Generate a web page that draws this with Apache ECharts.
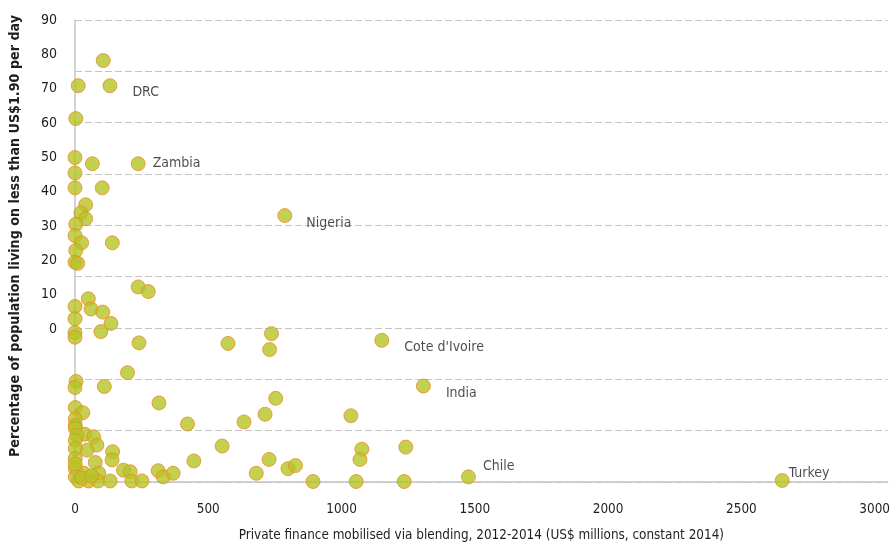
<!DOCTYPE html>
<html>
<head>
<meta charset="utf-8">
<script src="https://cdn.jsdelivr.net/npm/echarts@6/dist/echarts.min.js"></script>
<style>
html,body{margin:0;padding:0;background:#fff;}
#chart{width:893px;height:547px;}
</style>
</head>
<body>
<div id="chart"></div>
<script>
// ---- data ----
const countryNames = ['DRC', 'Zambia', 'Nigeria', "Cote d'Ivoire", 'India', 'Chile', 'Turkey'];
const countryFinance = [131, 237, 787, 1151, 1307, 1476, 2653];
const countryPoverty = [77.2, 62.0, 51.9, 27.6, 18.7, 1.0, 0.3];

const otherFinance = [106, 12, 3, 0, 65, 0, 0, 102, 40, 22, 40, 3, 0, 25, 140, 3, 0, 10,
  237, 275, 50, 0, 60, 104, 0, 135, 97, 0, 0, 240, 574, 737, 730, 197, 4, 0, 110,
  315, 753, 713, 634, 422, 1035, 1, 29, 1, 1, 1, 37, 70, 7, 1, 82, 552, 45, 1, 141,
  139, 76, 1, 446, 728, 1076, 1069, 1241, 1, 89, 182, 207, 33, 1, 312, 331, 368, 680,
  799, 827, 14, 51, 86, 132, 213, 251, 26, 893, 1055, 1235, 62, 1];
const otherPoverty = [82.1, 77.2, 70.8, 63.2, 62.0, 60.2, 57.3, 57.3, 54.0, 52.4, 51.3, 50.2, 48.0, 46.6, 46.6, 45.1, 42.8, 42.6,
  38.0, 37.1, 35.7, 34.2, 33.7, 33.1, 31.8, 30.9, 29.3, 29.1, 28.2, 27.1, 27.0, 28.9, 25.8, 21.3, 19.6, 18.4, 18.6,
  15.4, 16.3, 13.2, 11.7, 11.3, 12.9, 14.5, 13.5, 12.3, 11.0, 10.5, 9.3, 8.8, 9.1, 8.1, 7.2, 7.0, 6.2, 6.5, 5.9,
  4.3, 3.8, 4.6, 4.1, 4.4, 6.4, 4.4, 6.8, 2.6, 1.7, 2.3, 2.0, 1.7, 1.0, 2.2, 1.0, 1.7, 1.7,
  2.6, 3.2, 0.2, 0.2, 0.2, 0.2, 0.2, 0.2, 0.8, 0.1, 0.1, 0.1, 1.2, 3.5];

const xTicks = [0, 500, 1000, 1500, 2000, 2500, 3000];
const yTickLabels = [0, 10, 20, 30, 40, 50, 60, 70, 80, 90];

// ---- styles ----
const FONT = "'DejaVu Sans Condensed', 'Liberation Sans Narrow', sans-serif";
const TXT = '#1e1e1e';
const FS = 13.4;
// label offset from point centre [dx, dy] (style only)
const labelOffsets = [[23, 7], [15, 0], [22, 8], [23, 8], [23, 8], [15, -10], [7, -7]];
const SYM = 14;

const pointStyle = { color: '#b5c424', borderColor: '#ee8a2a', borderWidth: 1 };

const otherData = otherFinance.map((x, i) => [x, otherPoverty[i]]);
const countryData = countryFinance.map((x, i) => ({
  value: [x, countryPoverty[i]],
  label: {
    show: true,
    formatter: countryNames[i],
    position: [SYM / 2 + labelOffsets[i][0], SYM / 2 + labelOffsets[i][1]],
    align: 'left',
    verticalAlign: 'middle',
    color: TXT,
    fontSize: 14,
    fontFamily: FONT
  }
}));

const chart = echarts.init(document.getElementById('chart'), null, { renderer: 'canvas' });
chart.setOption({
  animation: false,
  backgroundColor: '#fff',
  grid: [
    { left: 75, right: 4, top: 20, bottom: 62, containLabel: false },
    { left: 75, width: 1, top: 20, height: 309, containLabel: false }
  ],
  xAxis: [
    {
      gridIndex: 0, type: 'value', min: 0, max: 3049, interval: 500,
      axisLine: { show: true, lineStyle: { color: '#c4c4c4', width: 1.5 } },
      axisTick: { show: false },
      splitLine: { show: false },
      axisLabel: {
        color: TXT, fontSize: FS, fontFamily: FONT, margin: 21,
        formatter: v => (xTicks.indexOf(v) >= 0 ? String(v) : '')
      },
      name: 'Private finance mobilised via blending, 2012-2014 (US$ millions, constant 2014)',
      nameLocation: 'middle', nameGap: 47,
      nameTextStyle: { color: TXT, fontSize: FS, fontFamily: FONT }
    },
    { gridIndex: 1, type: 'value', show: false, min: 0, max: 1 }
  ],
  yAxis: [
    {
      gridIndex: 0, type: 'value', min: 0, max: 90, interval: 10,
      axisLine: { show: true, lineStyle: { color: '#c4c4c4', width: 1.5 } },
      axisTick: { show: false },
      axisLabel: { show: false },
      splitLine: { show: true, lineStyle: { color: '#c4c4c4', width: 1, type: [7, 3] } }
    },
    {
      gridIndex: 1, type: 'value', min: 0, max: 90, interval: 10,
      axisLine: { show: false }, axisTick: { show: false }, splitLine: { show: false },
      axisLabel: {
        color: TXT, fontSize: 14, fontFamily: FONT, margin: 18,
        formatter: v => (yTickLabels.indexOf(v) >= 0 ? String(v) : '')
      }
    }
  ],
  graphic: [
    {
      type: 'text', x: 15, y: 236, rotation: Math.PI / 2,
      style: {
        text: 'Percentage of population living on less than US$1.90 per day',
        fill: TXT, font: 'bold 14.2px ' + FONT, textAlign: 'center', textVerticalAlign: 'middle'
      }
    }
  ],
  series: [
    {
      type: 'scatter', xAxisIndex: 0, yAxisIndex: 0, symbolSize: SYM,
      itemStyle: pointStyle, data: otherData, z: 3
    },
    {
      type: 'scatter', xAxisIndex: 0, yAxisIndex: 0, symbolSize: SYM,
      itemStyle: pointStyle, data: countryData, z: 4,
      labelLayout: { hideOverlap: false }
    }
  ]
});
</script>
</body>
</html>
